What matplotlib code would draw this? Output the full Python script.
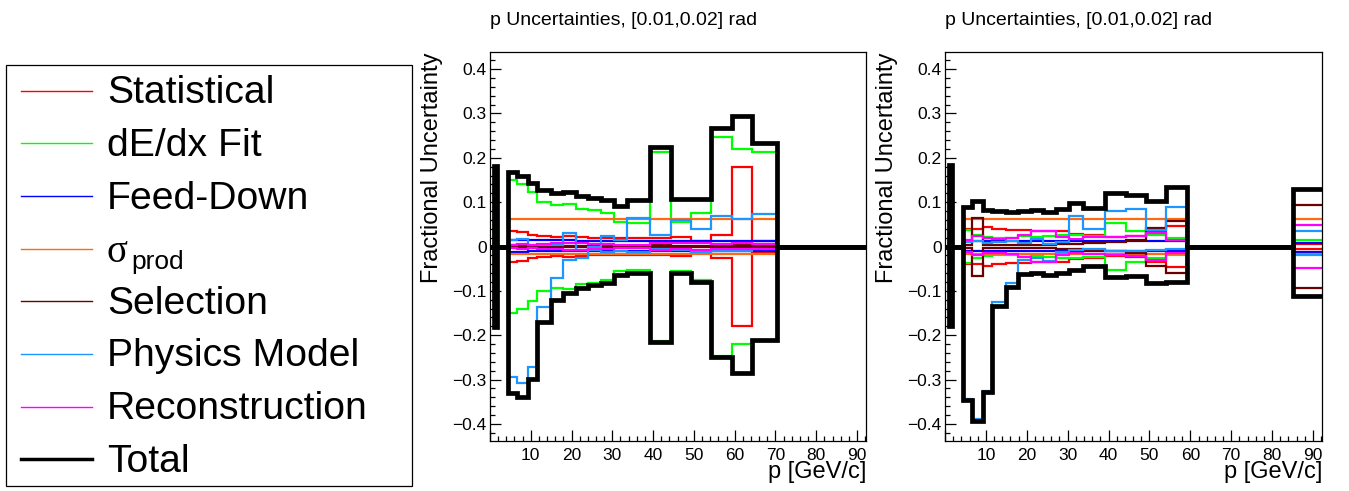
import numpy as np
import matplotlib
matplotlib.use('Agg')
import matplotlib.pyplot as plt
from matplotlib.lines import Line2D
from matplotlib.patches import Rectangle
from matplotlib.ticker import MultipleLocator, FuncFormatter

plt.rcParams['font.family'] = ['Liberation Sans', 'DejaVu Sans']

W, H = 1349, 491
TITLE = 'p Uncertainties, [0.01,0.02] rad'
XLABEL = 'p [GeV/c]'
YLABEL = 'Fractional Uncertainty'

LABELS = ['Statistical', 'dE/dx Fit', 'Feed-Down', 'sigma_prod',
          'Selection', 'Physics Model', 'Reconstruction', 'Total']
COLORS = ['#ff0000', '#00ff00', '#0000ff', '#ff6a10',
          '#6b0000', '#1e96ff', '#ff00ff', '#000000']

# ---- left panel: bin edges (GeV/c), which bins carry values ----
left_edges = [0, 1.0, 1.7, 4.3, 6.7, 9.2, 11.6, 14.9, 17.9, 21.0, 24.0, 27.2,
              30.4, 33.7, 39.2, 44.3, 49.2, 54.1, 59.3, 64.3, 70.3, 95]
left_filled = [False, True, False] + [True] * 17 + [False]

left_stat = [0.135, 0.036, 0.032, 0.027, 0.024, 0.022, 0.023, 0.021, 0.020,
             0.020, 0.019, 0.019, 0.020, 0.022, 0.012, 0.026, 0.179, 0.012]
left_dedx = [0.105, 0.151, 0.142, 0.122, 0.100, 0.093, 0.096, 0.085, 0.082,
             0.076, 0.055, 0.052, 0.213, 0.056, 0.075, 0.247, 0.219, 0.213]
left_feed_up = [0.008, 0.015, 0.015, 0.014, 0.014, 0.014, 0.014, 0.013, 0.013,
                0.013, 0.013, 0.013, 0.013, 0.013, 0.013, 0.013, 0.013, 0.013]
left_feed_lo = [-0.008, -0.012, -0.012, -0.011, -0.011, -0.011, -0.011, -0.011, -0.011,
                -0.011, -0.011, -0.011, -0.011, -0.011, -0.011, -0.011, -0.011, -0.011]
left_sig_up = [0.062] * 18
left_sig_lo = [-0.017] * 18
left_sel_up = [0.002, 0.003, 0.003, 0.002, 0.002, 0.002, 0.002, 0.002, 0.002,
               0.002, 0.002, 0.002, 0.003, 0.002, 0.002, 0.003, 0.003, 0.002]
left_sel_lo = [-0.002, -0.002, -0.002, -0.002, -0.002, -0.002, -0.002, -0.002, -0.002,
               -0.002, -0.002, -0.002, -0.002, -0.002, -0.002, -0.002, -0.002, -0.002]
left_phys_up = [0.010, 0.015, 0.017, 0.004, 0.004, 0.004, 0.030, -0.007, 0.000,
                0.024, 0.015, 0.064, 0.026, 0.060, 0.040, 0.069, 0.062, 0.073]
left_phys_lo = [-0.020, -0.294, -0.307, -0.271, -0.136, -0.072, -0.030, -0.026, -0.008,
                -0.012, -0.010, -0.012, -0.006, -0.008, -0.012, -0.010, -0.010, -0.006]
left_reco_up = [0.005, 0.004, 0.006, 0.003, 0.005, 0.007, 0.009, 0.008, 0.006,
                0.005, 0.004, 0.004, 0.008, 0.007, 0.008, 0.006, 0.007, 0.006]
left_reco_lo = [-0.005, -0.004, -0.005, -0.003, -0.005, -0.006, -0.008, -0.007, -0.006,
                -0.005, -0.004, -0.004, -0.007, -0.006, -0.007, -0.006, -0.006, -0.005]
left_tot_up = [0.182, 0.167, 0.160, 0.143, 0.128, 0.120, 0.124, 0.113, 0.109,
               0.105, 0.092, 0.105, 0.224, 0.107, 0.108, 0.267, 0.295, 0.233]
left_tot_lo = [-0.182, -0.331, -0.339, -0.298, -0.170, -0.121, -0.106, -0.094, -0.087,
               -0.083, -0.064, -0.059, -0.215, -0.060, -0.079, -0.250, -0.285, -0.211]

# ---- right panel ----
right_edges = [0, 1.0, 1.7, 4.3, 6.7, 9.2, 11.6, 14.9, 17.9, 21.0, 24.0, 27.2,
               30.4, 33.7, 39.2, 44.3, 49.2, 54.1, 59.3, 85.2, 95]
right_filled = [False, True, False] + [True] * 15 + [False, True]

right_stat = [0.135, 0.040, 0.040, 0.044, 0.040, 0.038, 0.038, 0.036, 0.034,
              0.034, 0.028, 0.026, 0.022, 0.024, 0.034, 0.047, 0.005]
right_dedx = [0.105, 0.038, 0.026, 0.021, 0.019, 0.019, 0.023, 0.021, 0.024,
              0.026, 0.026, 0.024, 0.053, 0.034, 0.026, 0.019, 0.015]
right_feed_up = [0.008, 0.013, 0.013, 0.013, 0.013, 0.013, 0.013, 0.013, 0.013,
                 0.013, 0.013, 0.013, 0.013, 0.013, 0.013, 0.013, 0.008]
right_feed_lo = [-0.008, -0.011, -0.011, -0.011, -0.011, -0.011, -0.011, -0.011, -0.011,
                 -0.011, -0.011, -0.011, -0.011, -0.011, -0.011, -0.011, -0.012]
right_sig_up = [0.062] * 17
right_sig_lo = [-0.017] * 17
right_sel_up = [0.003, 0.003, 0.064, 0.003, 0.003, 0.003, 0.003, 0.003, 0.003,
                0.005, 0.005, 0.008, 0.010, 0.015, 0.041, 0.058, 0.094]
right_sel_lo = [-0.003, -0.003, -0.066, -0.003, -0.003, -0.003, -0.003, -0.003, -0.003,
                -0.005, -0.005, -0.008, -0.010, -0.015, -0.044, -0.059, -0.094]
right_phys_up = [0.010, 0.010, 0.012, 0.008, 0.010, 0.012, 0.008, 0.017, 0.005,
                 0.010, 0.069, 0.039, 0.079, 0.084, 0.038, 0.088, 0.036]
right_phys_lo = [-0.026, -0.345, -0.390, -0.325, -0.125, -0.083, -0.030, -0.025, -0.032,
                 -0.012, -0.008, -0.005, -0.010, -0.010, -0.008, -0.005, -0.020]
right_reco_up = [0.005, 0.014, 0.024, 0.019, 0.016, 0.019, 0.026, 0.034, 0.035,
                 0.021, 0.017, 0.021, 0.022, 0.024, 0.030, 0.015, 0.048]
right_reco_lo = [-0.005, -0.012, -0.020, -0.015, -0.014, -0.016, -0.024, -0.034, -0.034,
                 -0.020, -0.015, -0.018, -0.020, -0.022, -0.030, -0.015, -0.049]
right_tot_up = [0.184, 0.090, 0.102, 0.083, 0.081, 0.078, 0.081, 0.083, 0.078,
                0.084, 0.099, 0.087, 0.120, 0.117, 0.102, 0.135, 0.129]
right_tot_lo = [-0.179, -0.346, -0.393, -0.328, -0.134, -0.091, -0.062, -0.060, -0.064,
                -0.059, -0.053, -0.045, -0.068, -0.066, -0.083, -0.081, -0.111]


def spread(vals, filled):
    '''put values into the filled bins, zero elsewhere'''
    out = np.zeros(len(filled))
    out[np.array(filled)] = vals
    return out


def draw_panel(ax, edges, filled, bands):
    for (up, lo), col in zip(bands, COLORS):
        lw = 3.4 if col == '#000000' else 1.6
        for vals in (up, lo):
            sp = ax.stairs(spread(vals, filled), edges, baseline=None,
                           color=col, lw=lw)
            sp.set_joinstyle('miter')

    ax.set_xlim(0, 92.2)
    ax.set_ylim(-0.438, 0.438)
    ax.xaxis.set_major_locator(MultipleLocator(10))
    ax.xaxis.set_minor_locator(MultipleLocator(2))
    ax.yaxis.set_major_locator(MultipleLocator(0.1))
    ax.yaxis.set_minor_locator(MultipleLocator(0.02))
    ax.xaxis.set_major_formatter(FuncFormatter(lambda v, p: '' if v < 1 else f'{v:.0f}'))
    ax.yaxis.set_major_formatter(FuncFormatter(
        lambda v, p: '0' if abs(v) < 1e-9 else f'{v:.1f}'.replace('-', '\u2212')))
    ax.tick_params(which='both', direction='in', top=False, right=False,
                   labelsize=12.5, width=0.9)
    ax.tick_params(axis='x', which='both', pad=5)
    ax.tick_params(axis='y', which='both', pad=2.5)
    ax.tick_params(which='major', length=8)
    ax.tick_params(which='minor', length=3.8)
    for s in ax.spines.values():
        s.set_linewidth(0.9)

    ax.set_xlabel(XLABEL, fontsize=17, loc='right')
    ax.xaxis.set_label_coords(1.0, -0.052)
    ax.set_ylabel(YLABEL, fontsize=17, loc='top')
    ax.yaxis.set_label_coords(-0.125, 1.0)
    ax.set_title(TITLE, loc='left', fontsize=14, pad=20)


fig = plt.figure(figsize=(W / 100, H / 100), dpi=100)

ax1 = fig.add_axes([490 / W, 1 - 440.7 / H, 376 / W, 388.4 / H])
ax2 = fig.add_axes([945 / W, 1 - 440.7 / H, 377 / W, 388.4 / H])

draw_panel(ax1, left_edges, left_filled, [
    (left_stat, [-v for v in left_stat]),
    (left_dedx, [-v for v in left_dedx]),
    (left_feed_up, left_feed_lo),
    (left_sig_up, left_sig_lo),
    (left_sel_up, left_sel_lo),
    (left_phys_up, left_phys_lo),
    (left_reco_up, left_reco_lo),
    (left_tot_up, left_tot_lo),
])
draw_panel(ax2, right_edges, right_filled, [
    (right_stat, [-v for v in right_stat]),
    (right_dedx, [-v for v in right_dedx]),
    (right_feed_up, right_feed_lo),
    (right_sig_up, right_sig_lo),
    (right_sel_up, right_sel_lo),
    (right_phys_up, right_phys_lo),
    (right_reco_up, right_reco_lo),
    (right_tot_up, right_tot_lo),
])

# ---- legend drawn in figure pixels (ROOT style box) ----
def fx(x):
    return x / W


def fy(y):
    return 1 - y / H


fig.patches.append(Rectangle((fx(6), fy(486)), fx(406), 421 / H, transform=fig.transFigure,
                             fill=False, edgecolor='black', lw=0.9))
row_y = 90.7
for lab, col in zip(LABELS, COLORS):
    lw = 2.5 if col == '#000000' else 1.0
    fig.lines.append(Line2D([fx(21), fx(92)], [fy(row_y), fy(row_y)],
                            transform=fig.transFigure, color=col, lw=lw))
    if lab == 'sigma_prod':
        fig.text(fx(107), fy(row_y + 13.5), '\u03c3', family='Liberation Serif',
                 fontsize=28, va='baseline', ha='left')
        fig.text(fx(131), fy(row_y + 20), 'prod', fontsize=19, va='baseline', ha='left')
    else:
        fig.text(fx(107), fy(row_y + 12.5), lab, fontsize=28.2, va='baseline', ha='left')
    row_y += 52.66

fig.savefig('out.png', dpi=100)
